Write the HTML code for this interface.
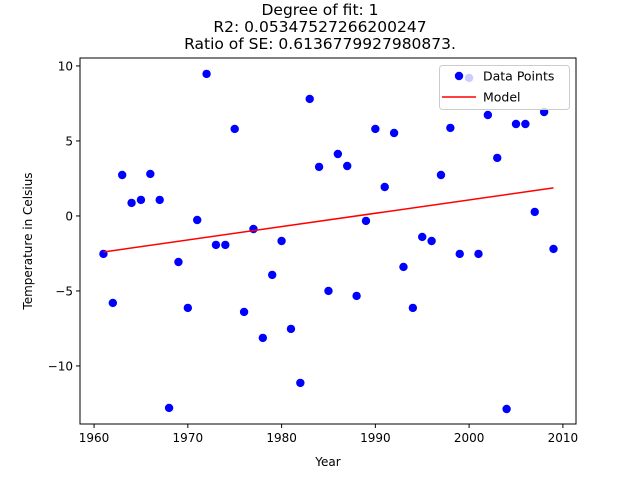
<!DOCTYPE html>
<html><head><meta charset="utf-8"><style>
body{margin:0;background:#fff;}
svg{display:block;font-family:"DejaVu Sans","Liberation Sans",sans-serif;}
</style></head><body>
<svg id="chart" width="640" height="478"></svg>
<script>
const years=[1961,1962,1963,1964,1965,1966,1967,1968,1969,1970,1971,1972,1973,1974,1975,1976,1977,1978,1979,1980,1981,1982,1983,1984,1985,1986,1987,1988,1989,1990,1991,1992,1993,1994,1995,1996,1997,1998,1999,2000,2001,2002,2003,2004,2005,2006,2007,2008,2009];
const temps=[-2.53,-5.8,2.73,0.87,1.07,2.8,1.07,-12.8,-3.07,-6.13,-0.27,9.47,-1.93,-1.93,5.8,-6.4,-0.87,-8.13,-3.93,-1.67,-7.53,-11.13,7.8,3.27,-5.0,4.13,3.33,-5.33,-0.33,5.8,1.93,5.53,-3.4,-6.13,-1.4,-1.67,2.73,5.87,-2.53,9.2,-2.53,6.73,3.87,-12.87,6.13,6.13,0.27,6.93,-2.2];
const xTicks=[1960,1970,1980,1990,2000,2010];
const yTicks=[10,5,0,-5,-10];
const modelEnds=[-2.4,1.87];
const titleLines=["Degree of fit: 1","R2: 0.05347527266200247","Ratio of SE: 0.6136779927980873."];

const L=80,R=576,T=58,B=424;
const xMin=1958.5,xMax=2011.4,yMin=-13.87,yMax=10.53;
const sx=v=>L+(v-xMin)/(xMax-xMin)*(R-L);
const sy=v=>B-(v-yMin)/(yMax-yMin)*(B-T);
const svg=document.getElementById('chart');
const NS='http://www.w3.org/2000/svg';
function mk(tag,attrs,parent){const e=document.createElementNS(NS,tag);for(const k in attrs)e.setAttribute(k,attrs[k]);(parent||svg).appendChild(e);return e;}

titleLines.forEach((t,i)=>{const e=mk('text',{x:320,y:15+i*17,'text-anchor':'middle','font-size':'15.5'});e.textContent=t;

});

xTicks.forEach(v=>{const x=sx(v);mk('line',{x1:x,x2:x,y1:B,y2:B+4,stroke:'#000'});
const t=mk('text',{x:x,y:B+18,'text-anchor':'middle','font-size':'12'});t.textContent=v;

});
yTicks.forEach(v=>{const y=sy(v);mk('line',{x1:L-4,x2:L,y1:y,y2:y,stroke:'#000'});
const t=mk('text',{x:L-7,y:y+4.5,'text-anchor':'end','font-size':'12'});t.textContent=v<0?'\u2212'+(-v):v;

});

const xl=mk('text',{x:328,y:466,'text-anchor':'middle','font-size':'12'});xl.textContent='Year';


const yl=mk('text',{x:32,y:241,'text-anchor':'middle','font-size':'12',transform:'rotate(-90 32 241)'});yl.textContent='Temperature in Celsius';



years.forEach((yr,i)=>{const c=mk('circle',{cx:sx(yr),cy:sy(temps[i]),r:4.2,fill:'#0000ff'});

});

const m=mk('line',{x1:sx(years[0]),y1:sy(modelEnds[0]),x2:sx(years[years.length-1]),y2:sy(modelEnds[1]),stroke:'#ff0000','stroke-width':1.5});



const frame=mk('rect',{x:L,y:T,width:R-L,height:B-T,fill:'none',stroke:'#000','stroke-width':1});



const lg=mk('g',{});


mk('rect',{x:439.5,y:65.5,width:130,height:44,rx:3,fill:'#fff','fill-opacity':0.8,stroke:'#ccc'},lg);
mk('circle',{cx:459,cy:76,r:4.2,fill:'#0000ff'},lg);
const t1=mk('text',{x:483,y:80.5,'font-size':'12.5'},lg);t1.textContent='Data Points';
mk('line',{x1:442,x2:476,y1:97,y2:97,stroke:'#ff0000','stroke-width':1.5},lg);
const t2=mk('text',{x:483,y:101.5,'font-size':'12.5'},lg);t2.textContent='Model';
</script>
</body></html>
